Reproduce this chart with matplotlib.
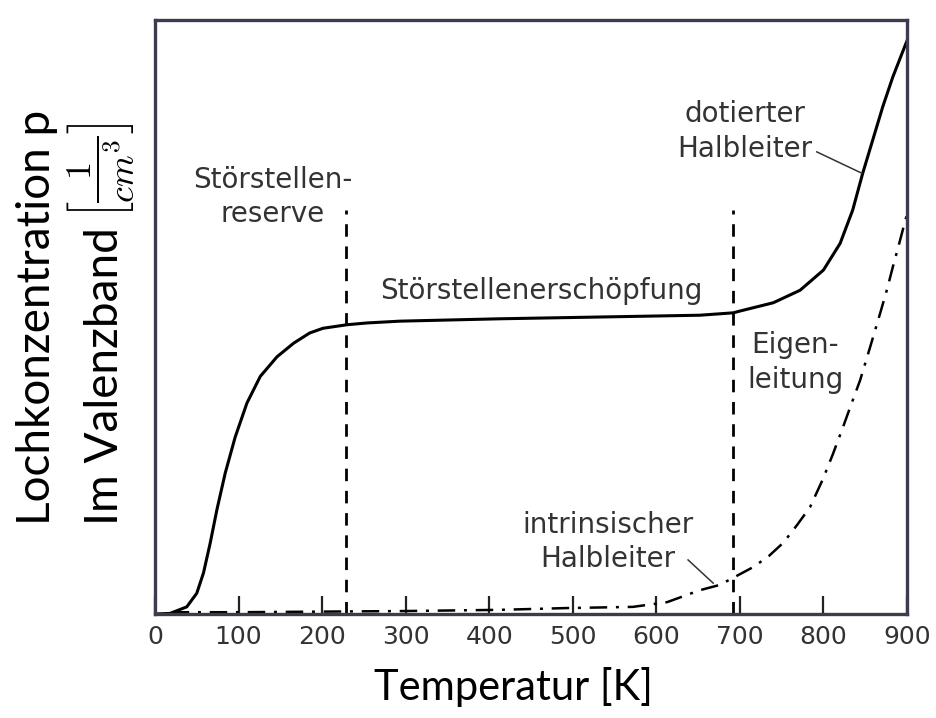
import matplotlib.pyplot as plt
import numpy as np

# data (y in relative units, 0 = bottom, 1 = top of box)
temp_doped = [0, 18, 38, 50, 58, 66, 74, 84, 96, 110, 126, 146, 166, 185, 201,
              230, 254, 293, 413, 533, 652, 692, 700, 740, 772, 800, 820, 835,
              847, 859, 871, 883, 898, 900]
p_doped = [0.0, 0.001, 0.012, 0.035, 0.069, 0.119, 0.175, 0.237, 0.298, 0.355,
           0.400, 0.433, 0.456, 0.473, 0.481, 0.487, 0.490, 0.493, 0.497, 0.500,
           0.503, 0.507, 0.510, 0.524, 0.545, 0.579, 0.624, 0.680, 0.742, 0.798,
           0.854, 0.904, 0.958, 0.965]

temp_intr = [20, 100, 200, 300, 413, 493, 572, 613, 652, 676, 716, 735, 752,
             768, 784, 799, 811, 823, 833, 844, 856, 868, 876, 883, 890, 898, 900]
p_intr = [0.003, 0.003, 0.004, 0.005, 0.007, 0.010, 0.012, 0.020, 0.040, 0.049,
          0.079, 0.098, 0.120, 0.149, 0.180, 0.226, 0.268, 0.313, 0.352, 0.394,
          0.450, 0.507, 0.546, 0.584, 0.620, 0.663, 0.672]

boundaries = [229, 692]          # dashed region borders [K]
boundary_top = 0.68
xticks = [0, 100, 200, 300, 400, 500, 600, 700, 800, 900]

plt.rcParams['mathtext.fontset'] = 'cm'

W, H = 937, 718
fig = plt.figure(figsize=(W/100, H/100), dpi=100)
ax = fig.add_axes([155/W, 1-614/H, 752/W, 594/H])

ax.plot(temp_doped, p_doped, color='black', lw=2.2, solid_joinstyle='round')
ax.plot(temp_intr, p_intr, color='black', lw=1.8, dashes=(7, 3.5, 1.2, 3.5))
for b in boundaries:
    ax.plot([b, b], [0, boundary_top], color='black', lw=2.0, dashes=(4.5, 3.5))

# pointer lines
ax.plot([792, 846], [0.778, 0.742], color='#333333', lw=1.1)
ax.plot([638, 668], [0.091, 0.052], color='#333333', lw=1.1)

txt = dict(fontsize=20, color='#333333', ha='center', va='center',
           family='DejaVu Sans', linespacing=1.3)
ax.text(141, 0.702, 'Störstellen-\nreserve', **txt)
ax.text(462, 0.544, 'Störstellenerschöpfung', **txt)
ax.text(766, 0.423, 'Eigen-\nleitung', **txt)
ax.text(542, 0.121, 'intrinsischer\nHalbleiter', **txt)
ax.text(706, 0.812, 'dotierter\nHalbleiter', **txt)

ax.set_xlim(0, 900)
ax.set_ylim(0, 1)
ax.set_xticks(xticks)
ax.set_yticks([])
ax.tick_params(axis='x', direction='in', length=13, width=1.6, color='#222222',
               labelsize=18, labelcolor='#333333', pad=8)
for s in ax.spines.values():
    s.set_color('#3c3c50')
    s.set_linewidth(2.4)

fig.text(513/W, 1-687/H, 'Temperatur [K]', ha='center', va='center',
         family='Lato', fontsize=30, color='black')

# y label: two rotated lines, anchored on their baselines
ylab = dict(rotation=90, rotation_mode='anchor', ha='left', va='baseline',
            family='Lato', fontsize=33, color='black')
fig.text(50/W, 1-525/H, 'Lochkonzentration p', **ylab)
fig.text(118/W, 1-525/H, 'Im Valenzband', **ylab)
fig.text(100/W, 1-122/H, r'$\left[\dfrac{1}{cm^3}\right]$', rotation=90,
         rotation_mode='anchor', ha='right', va='center', fontsize=26,
         color='black')

fig.savefig('out.png', dpi=100)
